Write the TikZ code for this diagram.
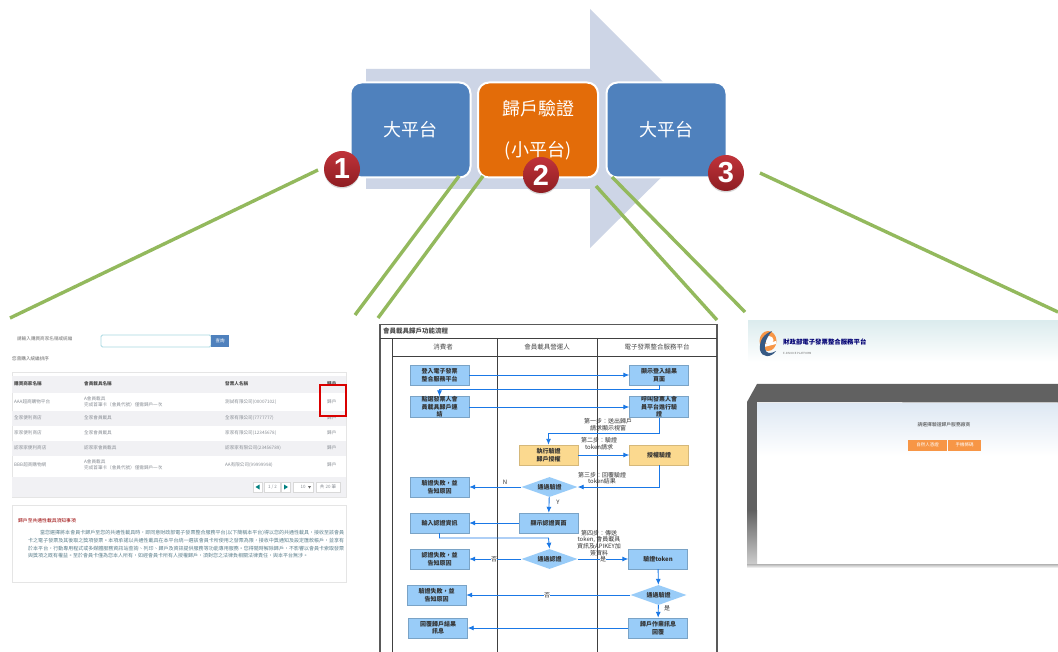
\documentclass[tikz,border=0pt]{standalone}
\usepackage{fontspec}
\setmainfont{Noto Sans CJK TC}
\newfontfamily\digitfont{Liberation Sans}
\usetikzlibrary{shapes.geometric,arrows.meta,shadows}
\XeTeXlinebreaklocale "zh"
\XeTeXlinebreakskip=0pt plus 1pt
\definecolor{arrowgrey}{HTML}{CDD5E6}
\definecolor{platblue}{HTML}{4F81BD}
\definecolor{platorange}{HTML}{E36C09}
\definecolor{linkgreen}{HTML}{93B95D}
\definecolor{ballred}{HTML}{C0333A}
\definecolor{balldark}{HTML}{8E1D22}
\definecolor{flowblue}{HTML}{99CCF8}
\definecolor{flowyellow}{HTML}{FBD98F}
\definecolor{flowarrow}{HTML}{1A78E6}
\definecolor{rowgrey}{HTML}{F1F1F4}
\definecolor{pagetext}{HTML}{8A8F96}
\definecolor{btnorange}{HTML}{F79646}
\definecolor{inputcyan}{HTML}{A8D8E2}
\definecolor{sitepale}{HTML}{DCECEE}
\definecolor{panelpale}{HTML}{DEE8F3}
\definecolor{bodyteal}{HTML}{5C7F8C}
\tikzset{
  platbox/.style={draw=white,line width=2pt,rounded corners=11pt,minimum width=120pt,minimum height=95pt,inner sep=0pt,align=center,text=white,font=\fontsize{18}{41}\selectfont},
  numball/.style={circle,shade,top color=ballred,bottom color=balldark,drop shadow={opacity=0.3,shadow xshift=0pt,shadow yshift=-1.5pt},minimum size=36pt,inner sep=0pt,text=white,font=\digitfont\bfseries\fontsize{29}{29}\selectfont},
  greenline/.style={draw=linkgreen,line width=3.4pt},
  flowbox/.style={fill=flowblue,draw=flowblue!80!black,line width=0.4pt,minimum width=59pt,minimum height=20pt,inner sep=0pt,align=center,text=black!80,font=\bfseries\fontsize{6}{7.5}\selectfont},
  flowgold/.style={flowbox,fill=flowyellow,draw=flowyellow!85!black},
  flowdiamond/.style={diamond,aspect=2.75,fill=flowblue,minimum width=56pt,minimum height=20pt,inner sep=0pt,text=black!80,font=\bfseries\fontsize{6}{7}\selectfont},
  flowline/.style={draw=flowarrow,line width=0.9pt,-{Latex[length=6pt,width=5pt]}},
  flowtext/.style={align=center,inner sep=0pt,text=black!80,font=\fontsize{6}{6.6}\selectfont},
  flowtag/.style={flowtext,fill=white},
  flowhead/.style={inner sep=0pt,text=black!70,font=\fontsize{6.5}{7}\selectfont},
  celltext/.style={anchor=west,inner sep=0pt,align=left,text=pagetext,font=\fontsize{4.6}{6.2}\selectfont},
  cellhead/.style={anchor=west,inner sep=0pt,text=black!70,font=\bfseries\fontsize{4.6}{6}\selectfont},
  pagerbox/.style={draw=black!15,fill=white,line width=0.4pt,inner sep=0pt,minimum height=10pt,text=pagetext,font=\fontsize{4.5}{5}\selectfont},
  orangebtn/.style={fill=btnorange,minimum height=11pt,inner sep=0pt,text=white,font=\fontsize{4.5}{5}\selectfont}
}
\begin{document}
\begin{tikzpicture}[x=1pt,y=-1pt]
\path[use as bounding box,clip] (0,0) rectangle (1058,652);
\fill[white] (0,0) rectangle (1058,652);

\fill[arrowgrey] (366,69) -- (590,69) -- (590,9) -- (710,129) -- (590,248) -- (590,189) -- (366,189) -- cycle;
\node[platbox,fill=platblue] (leftplat) at (410.5,130) {大平台};
\node[platbox,fill=platorange] (midplat) at (538,130) {歸戶驗證\\(小平台)};
\node[platbox,fill=platblue] (rightplat) at (666.5,130) {大平台};

\coordinate (leftend) at (10,318);
\coordinate (midendA) at (355,315);
\coordinate (midendB) at (378,318);
\coordinate (midendC) at (717,320);
\coordinate (midendD) at (745,312);
\coordinate (rightend) at (1058,312);
\coordinate (midstartA) at (459,176);
\coordinate (midstartB) at (483,176);
\coordinate (midstartC) at (596,186);
\coordinate (midstartD) at (612,177);
\node[numball] (ballone) at (342,169) {1};
\node[numball] (balltwo) at (541,175) {2};
\node[numball] (ballthree) at (726,173) {3};
\coordinate (ballonetip) at (318,170);
\coordinate (ballthreetip) at (760,173);
\draw[greenline] (ballonetip) -- (leftend);
\draw[greenline] (midstartA) -- (midendA);
\draw[greenline] (midstartB) -- (midendB);
\draw[greenline] (midstartC) -- (midendC);
\draw[greenline] (midstartD) -- (midendD);
\draw[greenline] (ballthreetip) -- (rightend);

\node[celltext,text=black!55] (searchlabel) at (17,339) {請輸入購買商家名稱或統編};
\node[draw=inputcyan,line width=0.8pt,fill=white,rounded corners=1.5pt,minimum width=110pt,minimum height=12pt,inner sep=0pt] (searchbox) at (156,341) {};
\node[fill=platblue,minimum width=18pt,minimum height=12pt,inner sep=0pt,text=white,font=\fontsize{4.5}{5}\selectfont] (searchbtn) at (220,341) {查詢};
\node[celltext,text=black!60] (sorttext) at (12,359) {您曾購入統編排序};
\draw[black!10,line width=0.5pt] (12,372) rectangle (346,497);
\fill[rowgrey] (12,376) rectangle (346,393);
\fill[rowgrey] (12,411) rectangle (346,426);
\fill[rowgrey] (12,441) rectangle (346,456);
\fill[rowgrey] (12,477) rectangle (346,497);
\node[cellhead] (headA) at (14,384) {購買商家名稱};
\node[cellhead] (headB) at (84,384) {會員載具名稱};
\node[cellhead] (headC) at (225,384) {發票人名稱};
\node[cellhead] (headD) at (327,384) {歸戶};
\node[celltext] (rowAa) at (14,402) {AAA超商購物平台};
\node[celltext] (rowAb) at (84,402) {A會員載具\\完成首筆卡（會員代號）僅需歸戶一次};
\node[celltext] (rowAc) at (225,402) {測試有限公司(00007102)};
\node[celltext] (rowAd) at (327,402) {歸戶};
\node[celltext] (rowBa) at (14,418) {全家便利商店};
\node[celltext] (rowBb) at (84,418) {全家會員載具};
\node[celltext] (rowBc) at (225,418) {全家有限公司(7777777)};
\node[celltext] (rowBd) at (327,418) {歸戶};
\node[celltext] (rowCa) at (14,433) {家家便利商店};
\node[celltext] (rowCb) at (84,433) {全家會員載具};
\node[celltext] (rowCc) at (225,433) {家家有限公司(12345678)};
\node[celltext] (rowCd) at (327,433) {歸戶};
\node[celltext] (rowDa) at (14,448) {認家家便利商店};
\node[celltext] (rowDb) at (84,448) {認家家會員載具};
\node[celltext] (rowDc) at (225,448) {認家家有限公司(23456789)};
\node[celltext] (rowDd) at (327,448) {歸戶};
\node[celltext] (rowEa) at (14,465) {BBB超商購物網};
\node[celltext] (rowEb) at (84,465) {A會員載具\\完成首筆卡（會員代號）僅需歸戶一次};
\node[celltext] (rowEc) at (225,465) {AA有限公司(99999998)};
\node[celltext] (rowEd) at (327,465) {歸戶};
\draw[red!85!black,line width=2.6pt] (320,385) rectangle (346,416);
\node[pagerbox,minimum width=9pt] (pagerprev) at (258,487) {};
\fill[teal] (255.5,487) -- (259.5,484.5) -- (259.5,489.5) -- cycle;
\node[pagerbox,minimum width=16pt] (pagernum) at (272.5,487) {1 / 2};
\node[pagerbox,minimum width=9pt] (pagernext) at (285.5,487) {};
\fill[teal] (288,487) -- (284,484.5) -- (284,489.5) -- cycle;
\node[pagerbox,minimum width=20pt,anchor=center,text depth=0pt] (pagersize) at (303,487) {10\hspace{7pt}};
\fill[black!60] (308,486) -- (311,486) -- (309.5,488.5) -- cycle;
\node[pagerbox,minimum width=24pt] (pagertotal) at (328,487) {共 20 筆};

\draw[black!10,line width=0.5pt] (12,505) rectangle (346,582);
\node[anchor=west,inner sep=0pt,text=red!60!black,font=\fontsize{4.8}{6}\selectfont] (notetitle) at (18,521) {歸戶至共通性載具須知事項};
\node[anchor=north west,inner sep=0pt,text width=316pt,align=justify,text=bodyteal,font=\fontsize{5}{7.6}\selectfont] (notebody) at (28,530.5) {\hspace*{12pt}當您選擇將本會員卡歸戶至您的共通性載具時，即同意財政部電子發票整合服務平台(以下簡稱本平台)得以您的共通性載具，接收至該會員卡之電子發票及其後取之獎項發票。本項承諾以共通性載具在本平台統一選該會員卡所使用之發票為限，接收中獎通知及設定匯款帳戶，並享有於本平台，行動專用程式或多媒體服務資訊站查詢、列印、歸戶及資訊提供服務等功能專用服務。您得隨時解除歸戶，不影響以會員卡索取發票與獎項之既有權益。至於會員卡僅為您本人所有，如經會員卡所有人授權歸戶，須對您之法律負相關法律責任，與本平台無涉。};

\draw[black!65,line width=1.2pt] (380,652) -- (380,324.5) -- (717,324.5) -- (717,652);
\draw[black!75,line width=0.7pt] (392,338) -- (392,652);
\draw[black!75,line width=0.7pt] (497,338) -- (497,652);
\draw[black!75,line width=0.7pt] (597,338) -- (597,652);
\draw[black!75,line width=0.7pt] (380,338) -- (717,338);
\draw[black!75,line width=0.7pt] (392,356) -- (717,356);
\node[anchor=west,flowhead,font=\bfseries\fontsize{6.5}{7}\selectfont] (flowtitle) at (383,331) {會員載具歸戶功能流程};
\node[flowhead] (laneA) at (443,347) {消費者};
\node[flowhead] (laneB) at (547,347) {會員載具營運人};
\node[flowhead] (laneC) at (657,347) {電子發票整合服務平台};

\node[flowbox] (loginstep) at (439.5,375) {登入電子發票\\整合服務平台};
\node[flowbox] (loginresult) at (659,375) {顯示登入結果\\頁面};
\node[flowbox] (clicklink) at (439.5,407) {點選發票人會\\員載具歸戶連\\結};
\node[flowbox] (callverify) at (659,407) {呼叫發票人會\\員平台進行驗\\證};
\node[flowgold] (runverify) at (548.5,455) {執行驗證\\歸戶授權};
\node[flowgold] (authverify) at (659,455) {授權驗證};
\node[flowbox] (failA) at (439.5,487) {驗證失敗，並\\告知原因};
\node[flowdiamond] (passA) at (549.5,487) {通過驗證};
\node[flowbox] (inputauth) at (439.5,523) {輸入認證資訊};
\node[flowbox] (showauth) at (548.5,523) {顯示認證頁面};
\node[flowbox] (failB) at (439.5,559) {認證失敗，並\\告知原因};
\node[flowdiamond] (passB) at (549.5,559) {通過認證};
\node[flowbox] (checktoken) at (658,559) {驗證token};
\node[flowdiamond] (passC) at (658.5,595) {通過驗證};
\node[flowbox] (failC) at (436.5,595) {驗證失敗，並\\告知原因};
\node[flowbox] (replyresult) at (438,628) {回覆歸戶結果\\訊息};
\node[flowbox] (jobmessage) at (658,628) {歸戶作業訊息\\回覆};

\coordinate (loopA) at (439.5,389.5);
\coordinate (loopB) at (548.5,433.5);
\coordinate (loopC) at (548.5,538);
\draw[flowline] (loginstep) -- (loginresult);
\draw[flowline] (loginresult.south) |- (loopA) -- (clicklink.north);
\draw[flowline] (clicklink) -- (callverify);
\draw[flowline] (callverify.south) |- (loopB) -- (runverify.north);
\draw[flowline] (runverify) -- (authverify);
\draw[flowline] (authverify.south) |- (passA.east);
\draw[flowline] (passA) -- (failA);
\draw[flowline] (passA) -- (showauth);
\draw[flowline] (showauth) -- (inputauth);
\draw[flowline] (inputauth.south) |- (loopC) -- (passB.north);
\draw[flowline] (passB) -- (failB);
\draw[flowline] (passB) -- (checktoken);
\draw[flowline] (checktoken) -- (passC);
\draw[flowline] (passC) -- (failC);
\draw[flowline] (passC) -- (jobmessage);
\draw[flowline] (jobmessage) -- (replyresult);

\node[flowtext] (stepone) at (608,425) {第一步：送出歸戶\\請求顯示視窗};
\node[flowtext] (steptwo) at (599,444) {第二步：驗證\\token請求};
\node[flowtext] (stepthree) at (602,478) {第三步：回覆驗證\\token結果};
\node[flowtext] (stepfour) at (599,543) {第四步：傳送\\token, 會員載具\\資訊及APIKEY加\\簽資料};
\node[flowtext] (tagN) at (505,482) {N};
\node[flowtext] (tagY) at (558,502) {Y};
\node[flowtag] (tagnoA) at (494,559) {否};
\node[flowtag] (tagyesA) at (603,559) {是};
\node[flowtag] (tagnoB) at (547,595) {否};
\node[flowtext] (tagyesB) at (667,608) {是};

\shade[top color=sitepale,bottom color=white] (748,321) rectangle (1058,362);
\fill[btnorange] (768,341) ellipse (8.5pt and 10pt);
\fill[white] (769,340) ellipse (4.5pt and 4pt);
\fill[white] (760,345) -- (776,341) -- (776,344) -- (760,348) -- cycle;
\fill[platblue!70!black] (760,350) .. controls (759,340) and (764,334) .. (772,331) .. controls (767,337) and (764,343) .. (765,349) .. controls (766,354) and (771,354) .. (776,351) .. controls (771,358) and (762,358) .. (760,350) -- cycle;
\node[anchor=west,inner sep=0pt,text=blue!45!black,font=\bfseries\fontsize{6.4}{7}\selectfont] (sitetitle) at (783,342) {財政部電子發票整合服務平台};
\node[anchor=west,inner sep=0pt,text=black!55,font=\fontsize{2.8}{3}\selectfont] (sitesub) at (783,353) {E-INVOICE PLATFORM};
\fill[black!62] (747,402) -- (757,384) -- (1058,384) -- (1058,402.5) -- cycle;
\fill[black!62] (747,402) rectangle (757,510);
\shade[top color=black!62,bottom color=black!20] (747,510) rectangle (757,564);
\shade[top color=panelpale,bottom color=white] (757,403) rectangle (1058,456);
\shade[top color=black!30,bottom color=white] (747,564) rectangle (1058,568);
\node[inner sep=0pt,text=black!75,font=\fontsize{4.8}{5}\selectfont] (choosetext) at (944,425) {請選擇驗證歸戶服務廠商};
\node[orangebtn,minimum width=39pt] (buttonA) at (927.5,445) {自然人憑證};
\node[orangebtn,minimum width=33pt] (buttonB) at (964.5,445) {手機條碼};
\end{tikzpicture}
\end{document}
